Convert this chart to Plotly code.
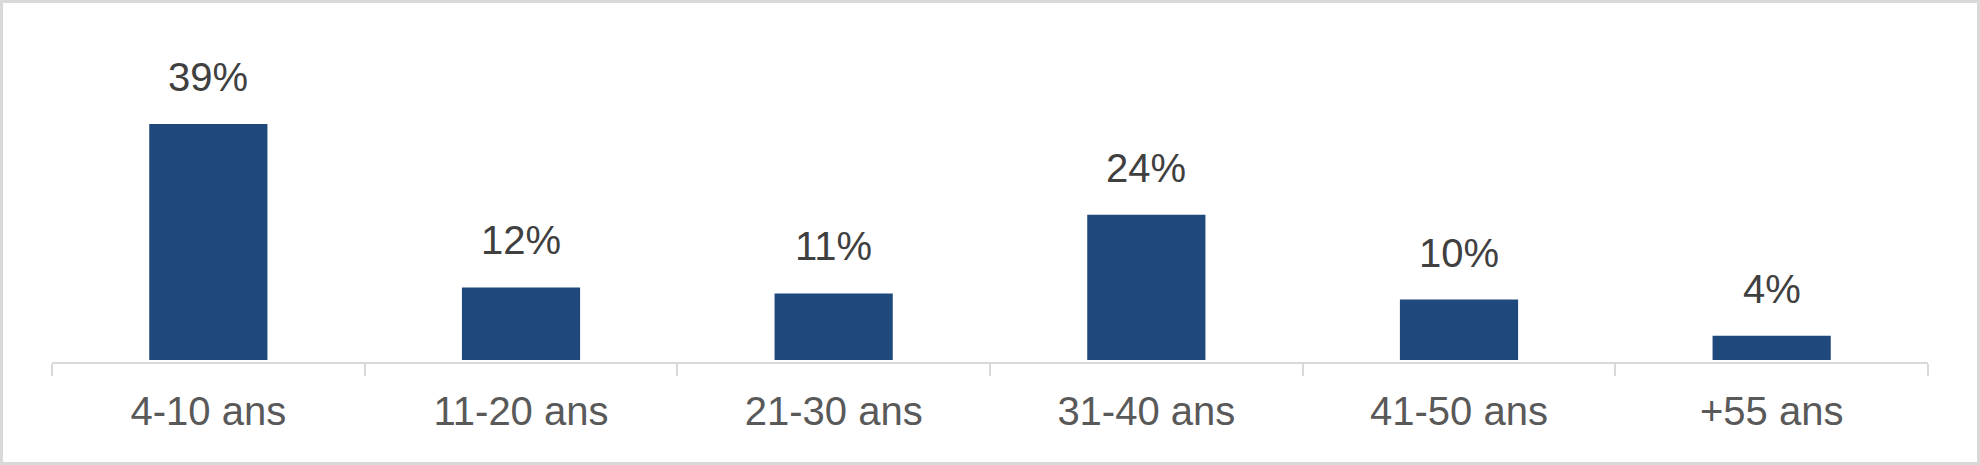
import plotly.graph_objects as go

categories = ["4-10 ans", "11-20 ans", "21-30 ans", "31-40 ans", "41-50 ans", "+55 ans"]
values = [39, 12, 11, 24, 10, 4]
labels = ["39%", "12%", "11%", "24%", "10%", "4%"]

W, H = 1980, 465
ML, MR, MT, MB = 52, 52, 20, 103
PW, PH = W - ML - MR, H - MT - MB
PX_PER_UNIT = 6.05
Y0 = -2 / PX_PER_UNIT

fig = go.Figure()
fig.add_trace(go.Bar(
    x=categories, y=values,
    marker=dict(color="#1F497D", line=dict(width=0)),
    width=0.378,
    hoverinfo="skip",
))

for c, v, t in zip(categories, values, labels):
    fig.add_annotation(
        x=c, y=v, text=t, showarrow=False,
        yanchor="bottom", yshift=23,
        font=dict(family="Arial, Liberation Sans, sans-serif", size=40, color="#404040"),
    )

# outer border
fig.add_shape(
    type="rect", xref="paper", yref="paper",
    x0=(1.5 - ML) / PW, x1=1 + (MR - 1.5) / PW,
    y0=-(MB - 1.5) / PH, y1=1 + (MT - 1.5) / PH,
    line=dict(color="#D9D9D9", width=3), fillcolor="rgba(0,0,0,0)",
    layer="below",
)

fig.update_layout(
    width=W, height=H,
    margin=dict(l=ML, r=MR, t=MT, b=MB, pad=0),
    paper_bgcolor="white", plot_bgcolor="white",
    showlegend=False,
    font=dict(family="Arial, Liberation Sans, sans-serif"),
)
fig.update_xaxes(
    type="category", range=[-0.5, 5.5],
    showline=True, linecolor="#D9D9D9", linewidth=2,
    ticks="outside", tickson="boundaries", ticklen=12, tickwidth=2, tickcolor="#D9D9D9",
    ticklabelstandoff=13,
    showgrid=False, zeroline=False,
    tickfont=dict(family="Arial, Liberation Sans, sans-serif", size=40, color="#595959"),
)
fig.update_yaxes(
    range=[Y0, Y0 + PH / PX_PER_UNIT], visible=False, showgrid=False, zeroline=False,
)

fig.write_html(
    "out.html",
    config={"displayModeBar": False, "staticPlot": True},
    post_script="document.body.style.margin='0';document.body.style.overflow='hidden';",
)
